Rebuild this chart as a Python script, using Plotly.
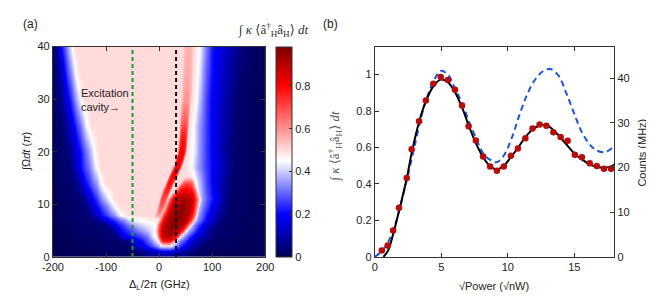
import numpy as np
import plotly.graph_objects as go

# ---------------- Panel (a): heat map ----------------
detuning_ticks = [-200, -100, 0, 100, 200]
detuning_ticktext = ["-200", "-100", "0", "100", "200"]
omega_ticks = [0, 10, 20, 30, 40]
cbar_ticks = [0, 0.2, 0.4, 0.6, 0.8]
green_line_x = [-50, -50]
black_line_x = [32, 32]
vline_y = [0, 40]

# background profile per row: (detuning GHz, value) knots
omega_levels = [0, 1, 2, 3, 4, 5, 6, 7, 8, 9.5, 11, 14, 17, 20, 25, 30, 35, 40]
background_knots = [
    [(-200, 0), (-35, 0.01), (0, 0.08), (25, 0.08), (55, 0.01), (200, 0)],
    [(-200, 0), (-45, 0.02), (-25, 0.08), (0, 0.15), (25, 0.15), (50, 0.07), (75, 0.01), (200, 0)],
    [(-200, 0), (-55, 0.03), (-45, 0.12), (-25, 0.2), (-8, 0.3), (5, 0.42), (22, 0.42), (32, 0.32), (45, 0.2), (65, 0.1), (82, 0.03), (200, 0)],
    [(-200, 0), (-62, 0.03), (-50, 0.15), (-30, 0.22), (-12, 0.35), (-3, 0.45), (30, 0.45), (40, 0.32), (58, 0.18), (80, 0.07), (95, 0.02), (200, 0)],
    [(-200, 0), (-80, 0.04), (-68, 0.18), (-40, 0.25), (-22, 0.32), (-10, 0.45), (40, 0.46), (48, 0.35), (64, 0.2), (89, 0.08), (104, 0.03), (200, 0)],
    [(-200, 0), (-90, 0.04), (-72, 0.2), (-45, 0.3), (-25, 0.38), (-8, 0.45), (50, 0.46), (58, 0.35), (74, 0.2), (95, 0.08), (110, 0.03), (200, 0)],
    [(-200, 0), (-103, 0.04), (-78, 0.2), (-54, 0.33), (-36, 0.4), (-8, 0.45), (57, 0.46), (66, 0.33), (80, 0.2), (101, 0.08), (117, 0.03), (200, 0)],
    [(-200, 0), (-121, 0.04), (-93, 0.2), (-66, 0.35), (-50, 0.44), (-20, 0.47), (0, 0.48), (64, 0.46), (74, 0.33), (89, 0.2), (110, 0.08), (123, 0.03), (200, 0)],
    [(-200, 0), (-133, 0.04), (-109, 0.2), (-84, 0.35), (-72, 0.45), (-57, 0.5), (0, 0.5), (67, 0.46), (77, 0.33), (92, 0.2), (115, 0.08), (129, 0.03), (200, 0)],
    [(-200, 0), (-139, 0.04), (-117, 0.2), (-95, 0.35), (-83, 0.45), (-72, 0.5), (60, 0.5), (70, 0.46), (80, 0.34), (98, 0.2), (117, 0.09), (131, 0.03), (200, 0)],
    [(-200, 0), (-145, 0.04), (-124, 0.2), (-106, 0.35), (-93, 0.45), (-84, 0.5), (62, 0.5), (72, 0.46), (82, 0.35), (95, 0.25), (104, 0.2), (120, 0.1), (132, 0.03), (200, 0)],
    [(-200, 0.01), (-157, 0.04), (-139, 0.2), (-118, 0.35), (-109, 0.45), (-100, 0.5), (62, 0.5), (70, 0.45), (80, 0.35), (92, 0.25), (100, 0.2), (120, 0.1), (135, 0.03), (200, 0)],
    [(-200, 0.01), (-167, 0.04), (-148, 0.2), (-128, 0.35), (-118, 0.45), (-109, 0.5), (48, 0.5), (60, 0.46), (70, 0.38), (85, 0.28), (100, 0.2), (125, 0.1), (141, 0.03), (200, 0)],
    [(-200, 0.01), (-172, 0.04), (-150, 0.2), (-133, 0.35), (-122, 0.45), (-115, 0.5), (52, 0.5), (58, 0.47), (68, 0.42), (78, 0.33), (95, 0.22), (120, 0.1), (141, 0.03), (200, 0)],
    [(-200, 0.01), (-180, 0.04), (-160, 0.2), (-145, 0.35), (-136, 0.45), (-128, 0.5), (57, 0.5), (65, 0.45), (76, 0.35), (95, 0.22), (122, 0.1), (144, 0.03), (200, 0)],
    [(-200, 0.02), (-185, 0.06), (-170, 0.2), (-157, 0.35), (-148, 0.45), (-140, 0.5), (62, 0.5), (71, 0.45), (80, 0.35), (95, 0.22), (125, 0.1), (147, 0.03), (200, 0)],
    [(-200, 0.02), (-190, 0.05), (-178, 0.2), (-165, 0.35), (-157, 0.45), (-150, 0.5), (63, 0.5), (74, 0.45), (83, 0.35), (98, 0.22), (130, 0.1), (155, 0.03), (200, 0)],
    [(-200, 0.03), (-194, 0.05), (-185, 0.2), (-172, 0.35), (-165, 0.45), (-158, 0.5), (66, 0.5), (76, 0.45), (86, 0.35), (100, 0.22), (135, 0.1), (165, 0.03), (200, 0)],
]

# thin red stripe: omega, centre detuning, peak value, half width
stripe_omega = [7.0, 8.0, 9.5, 11.0, 14.0, 17.0, 20.0, 23.0, 26.0, 30.0, 35.0, 40.0]
stripe_center = [-5, -2, 4, 8, 20, 34, 43, 46, 48, 51, 53, 55]
stripe_peak = [0.45, 0.6, 0.68, 0.72, 0.8, 0.83, 0.83, 0.78, 0.68, 0.6, 0.57, 0.56]
stripe_halfwidth = [6, 7, 8, 8, 9, 9, 9, 9, 10, 11, 12, 12]

# dark red blob: omega, centre detuning, peak value, half width
blob_omega = [2.0, 2.5, 3.0, 4.0, 5.0, 6.0, 7.0, 8.0, 9.5, 11.0, 12.5, 14.0, 15.0, 15.5]
blob_center = [14, 14, 15, 18, 22, 27, 33, 37, 42, 46, 50, 53, 55, 56]
blob_peak = [0.45, 0.62, 0.8, 0.92, 0.95, 0.97, 0.97, 0.97, 0.96, 0.93, 0.84, 0.72, 0.55, 0.45]
blob_halfwidth = [12, 13, 17, 24, 30, 34, 36, 36, 34, 32, 24, 15, 10, 8]

# ---------------- Panel (b): data ----------------
power_ticks = [0, 5, 10, 15]
signal_ticks = [0, 0.2, 0.4, 0.6, 0.8, 1]
signal_ticktext = ["0", "0.2", "0.4", "0.6", "0.8", "1"]
counts_ticks = [0, 10, 20, 30, 40]

dot_power = [0.53, 0.97, 1.38, 1.82, 2.40, 2.77, 3.33, 3.84, 4.40, 4.96, 5.50, 6.03,
             6.56, 7.05, 7.60, 8.14, 8.67, 9.18, 9.70, 10.23, 10.76, 11.32, 11.86,
             12.39, 12.90, 13.43, 13.97, 14.50, 15.04, 15.57, 16.16, 16.69, 17.23, 17.76]
dot_signal = [0.035, 0.062, 0.144, 0.27, 0.433, 0.59, 0.744, 0.858, 0.949, 0.986, 0.97, 0.916,
              0.83, 0.717, 0.638, 0.551, 0.495, 0.472, 0.495, 0.554, 0.595, 0.651, 0.704,
              0.726, 0.719, 0.683, 0.658, 0.637, 0.56, 0.547, 0.514, 0.498, 0.483, 0.483]

fit_power = [0.65, 1.0, 1.4, 1.85, 2.4, 2.8, 3.33, 3.85, 4.4, 4.96, 5.47, 6.07, 6.56,
             7.05, 7.53, 8.14, 8.63, 9.18, 9.7, 10.23, 10.78, 11.32, 11.88, 12.6, 13.1,
             13.7, 14.3, 15.04, 15.65, 16.25, 16.98, 17.71, 18.0]
fit_signal = [0.0, 0.035, 0.13, 0.26, 0.43, 0.58, 0.74, 0.855, 0.935, 0.972, 0.96, 0.898, 0.82,
              0.723, 0.635, 0.547, 0.5, 0.48, 0.5, 0.547, 0.6, 0.656, 0.70, 0.723, 0.714,
              0.675, 0.626, 0.565, 0.53, 0.504, 0.49, 0.495, 0.504]

sim_power = [0.0, 0.5, 1.0, 1.5, 2.0, 2.5, 3.0, 3.5, 4.0, 4.5, 4.95, 5.5, 6.07, 6.56, 7.05,
             7.65, 8.26, 8.87, 9.2, 9.7, 10.3, 10.9, 11.5, 12.1, 12.7, 13.2, 13.8, 14.4,
             15.0, 15.6, 16.25, 16.7, 17.3, 17.8, 18.0]
sim_signal = [0.0, 0.03, 0.08, 0.17, 0.30, 0.45, 0.61, 0.77, 0.89, 0.975, 1.02, 1.0, 0.916,
              0.846, 0.749, 0.644, 0.556, 0.525, 0.52, 0.556, 0.653, 0.784, 0.898, 0.977,
              1.021, 1.03, 0.995, 0.898, 0.784, 0.679, 0.609, 0.583, 0.574, 0.595, 0.61]

# ---------------- assemble the heat-map grid from the read-off features ----------------
detuning = np.linspace(-200, 200, 401)
omega = np.linspace(0, 40, 321)

bg_rows = np.array([np.interp(detuning, [k[0] for k in r], [k[1] for k in r])
                    for r in background_knots])
bg = np.array([[np.interp(w, omega_levels, bg_rows[:, j]) for j in range(len(detuning))]
               for w in omega])

BASE = 0.45
shape_u = [-1.0, -0.75, -0.5, 0.0, 0.5, 0.75, 1.0]
shape_v = [0.0, 0.55, 0.88, 1.0, 0.88, 0.55, 0.0]

def feature(track_w, centers, peaks, widths):
    out = np.zeros((len(omega), len(detuning)))
    for i, w in enumerate(omega):
        if w < track_w[0] or w > track_w[-1]:
            continue
        c = np.interp(w, track_w, centers)
        p = np.interp(w, track_w, peaks)
        h = np.interp(w, track_w, widths)
        u = (detuning - c) / h
        val = BASE + (p - BASE) * np.interp(u, shape_u, shape_v)
        out[i] = np.where(np.abs(u) < 1.0, val, 0.0)
    return out

z = np.maximum(bg, feature(stripe_omega, stripe_center, stripe_peak, stripe_halfwidth))
z = np.maximum(z, feature(blob_omega, blob_center, blob_peak, blob_halfwidth))

ZMAX = 0.983
colorscale = [
    [0.0, "rgb(0,0,85)"],
    [0.2 / ZMAX, "rgb(0,0,255)"],
    [0.45 / ZMAX, "rgb(255,255,255)"],
    [0.8 / ZMAX, "rgb(255,0,0)"],
    [1.0, "rgb(125,0,0)"],
]

SANS = "Arial, Liberation Sans, sans-serif"
SERIF = "Liberation Serif, DejaVu Serif, serif"
W, H = 654, 300

def px(x):
    return x / W

def py(y):
    return 1 - y / H

fig = go.Figure()

fig.add_trace(go.Heatmap(
    x=detuning, y=omega, z=z, zmin=0, zmax=ZMAX, zsmooth="best",
    colorscale=colorscale, xaxis="x", yaxis="y",
    colorbar=dict(
        x=px(265), xanchor="left", y=py(253), yanchor="bottom",
        len=219 / H, lenmode="fraction", thickness=16, thicknessmode="pixels",
        xpad=0, ypad=0, outlinewidth=1, outlinecolor="#333",
        tickvals=cbar_ticks, ticktext=["0", "0.2", "0.4", "0.6", "0.8"],
        ticks="inside", ticklen=3, tickcolor="#333",
        tickfont=dict(family=SANS, size=11, color="#222"),
    ),
))

fig.add_trace(go.Scatter(x=green_line_x, y=vline_y, mode="lines", xaxis="x", yaxis="y",
                         line=dict(color="#1f9a2a", width=2, dash="4px,3px"), showlegend=False))
fig.add_trace(go.Scatter(x=black_line_x, y=vline_y, mode="lines", xaxis="x", yaxis="y",
                         line=dict(color="#111", width=2, dash="4px,3px"), showlegend=False))

# panel b
fig.add_trace(go.Scatter(x=sim_power, y=sim_signal, mode="lines", xaxis="x2", yaxis="y2",
                         line=dict(color="#1d55e0", width=2, dash="6px,4px", shape="spline"),
                         showlegend=False))
fig.add_trace(go.Scatter(x=fit_power, y=fit_signal, mode="lines", xaxis="x2", yaxis="y2",
                         line=dict(color="#000", width=2, shape="spline"), showlegend=False))
fig.add_trace(go.Scatter(x=dot_power, y=dot_signal, mode="markers", xaxis="x2", yaxis="y2",
                         marker=dict(color="#b80c0c", size=6.5, line=dict(width=0)),
                         showlegend=False))
fig.add_trace(go.Scatter(x=[], y=[], mode="markers", xaxis="x2", yaxis="y3", showlegend=False))

axis_common = dict(showline=True, linecolor="#333", linewidth=1, ticks="inside",
                   ticklen=4, tickcolor="#333", showgrid=False, zeroline=False,
                   tickfont=dict(family=SANS, size=11, color="#222"))

fig.update_layout(
    width=W, height=H, margin=dict(l=0, r=0, t=0, b=0),
    paper_bgcolor="white", plot_bgcolor="white", showlegend=False,
    xaxis=dict(domain=[px(35), px(254)], range=[-200, 200], tickvals=detuning_ticks,
               ticktext=detuning_ticktext, mirror="ticks", anchor="y", **axis_common),
    yaxis=dict(domain=[py(253), py(34)], range=[0, 40], tickvals=omega_ticks,
               mirror="ticks", anchor="x", **axis_common),
    xaxis2=dict(domain=[px(367), px(614)], range=[0, 18], tickvals=power_ticks,
                mirror="ticks", anchor="y2", **axis_common),
    yaxis2=dict(domain=[py(253), py(34)], range=[0, 1.153], tickvals=signal_ticks,
                ticktext=signal_ticktext, anchor="x2", **axis_common),
    yaxis3=dict(range=[0, 47.1], tickvals=counts_ticks, overlaying="y2", side="right",
                anchor="x2", **axis_common),
)

ann = []
def add_text(text, x, y, size=11, family=SANS, angle=0, xanchor="center", color="#222",
             xref="paper", yref="paper", align="center"):
    ann.append(dict(text=text, x=x, y=y, xref=xref, yref=yref, showarrow=False,
                    textangle=angle, xanchor=xanchor, yanchor="middle", align=align,
                    font=dict(family=family, size=size, color=color)))

add_text("(a)", px(2), py(10), size=12, xanchor="left")
add_text("(b)", px(312), py(10), size=12, xanchor="left")
add_text("∫ <i>κ</i> ⟨â<sup>†</sup><sub>H</sub>â<sub>H</sub>⟩ <i>dt</i>", px(262), py(17),
         size=13, family=SERIF, color="#333")
add_text("∫Ω<i>dt</i> (<i>π</i>)", px(8), py(143), size=11, angle=-90)
add_text("Δ<sub>L</sub>/2π (GHz)", px(144.5), py(282), size=11)
add_text("√Power (√nW)", px(490), py(283), size=11)
add_text("∫ <i>κ</i> ⟨â<sup>†</sup><sub>H</sub>â<sub>H</sub>⟩ <i>dt</i>", px(326), py(138),
         size=13, family=SERIF, angle=-90, color="#555")
add_text("Counts (MHz)", px(643), py(144), size=11, angle=-90)
ann.append(dict(text="Excitation<br>cavity→", x=-150, y=29.9, xref="x", yref="y",
                showarrow=False, xanchor="left", yanchor="middle", align="left",
                font=dict(family=SANS, size=11, color="#222")))
fig.update_layout(annotations=ann)

fig.write_html("out.html")
